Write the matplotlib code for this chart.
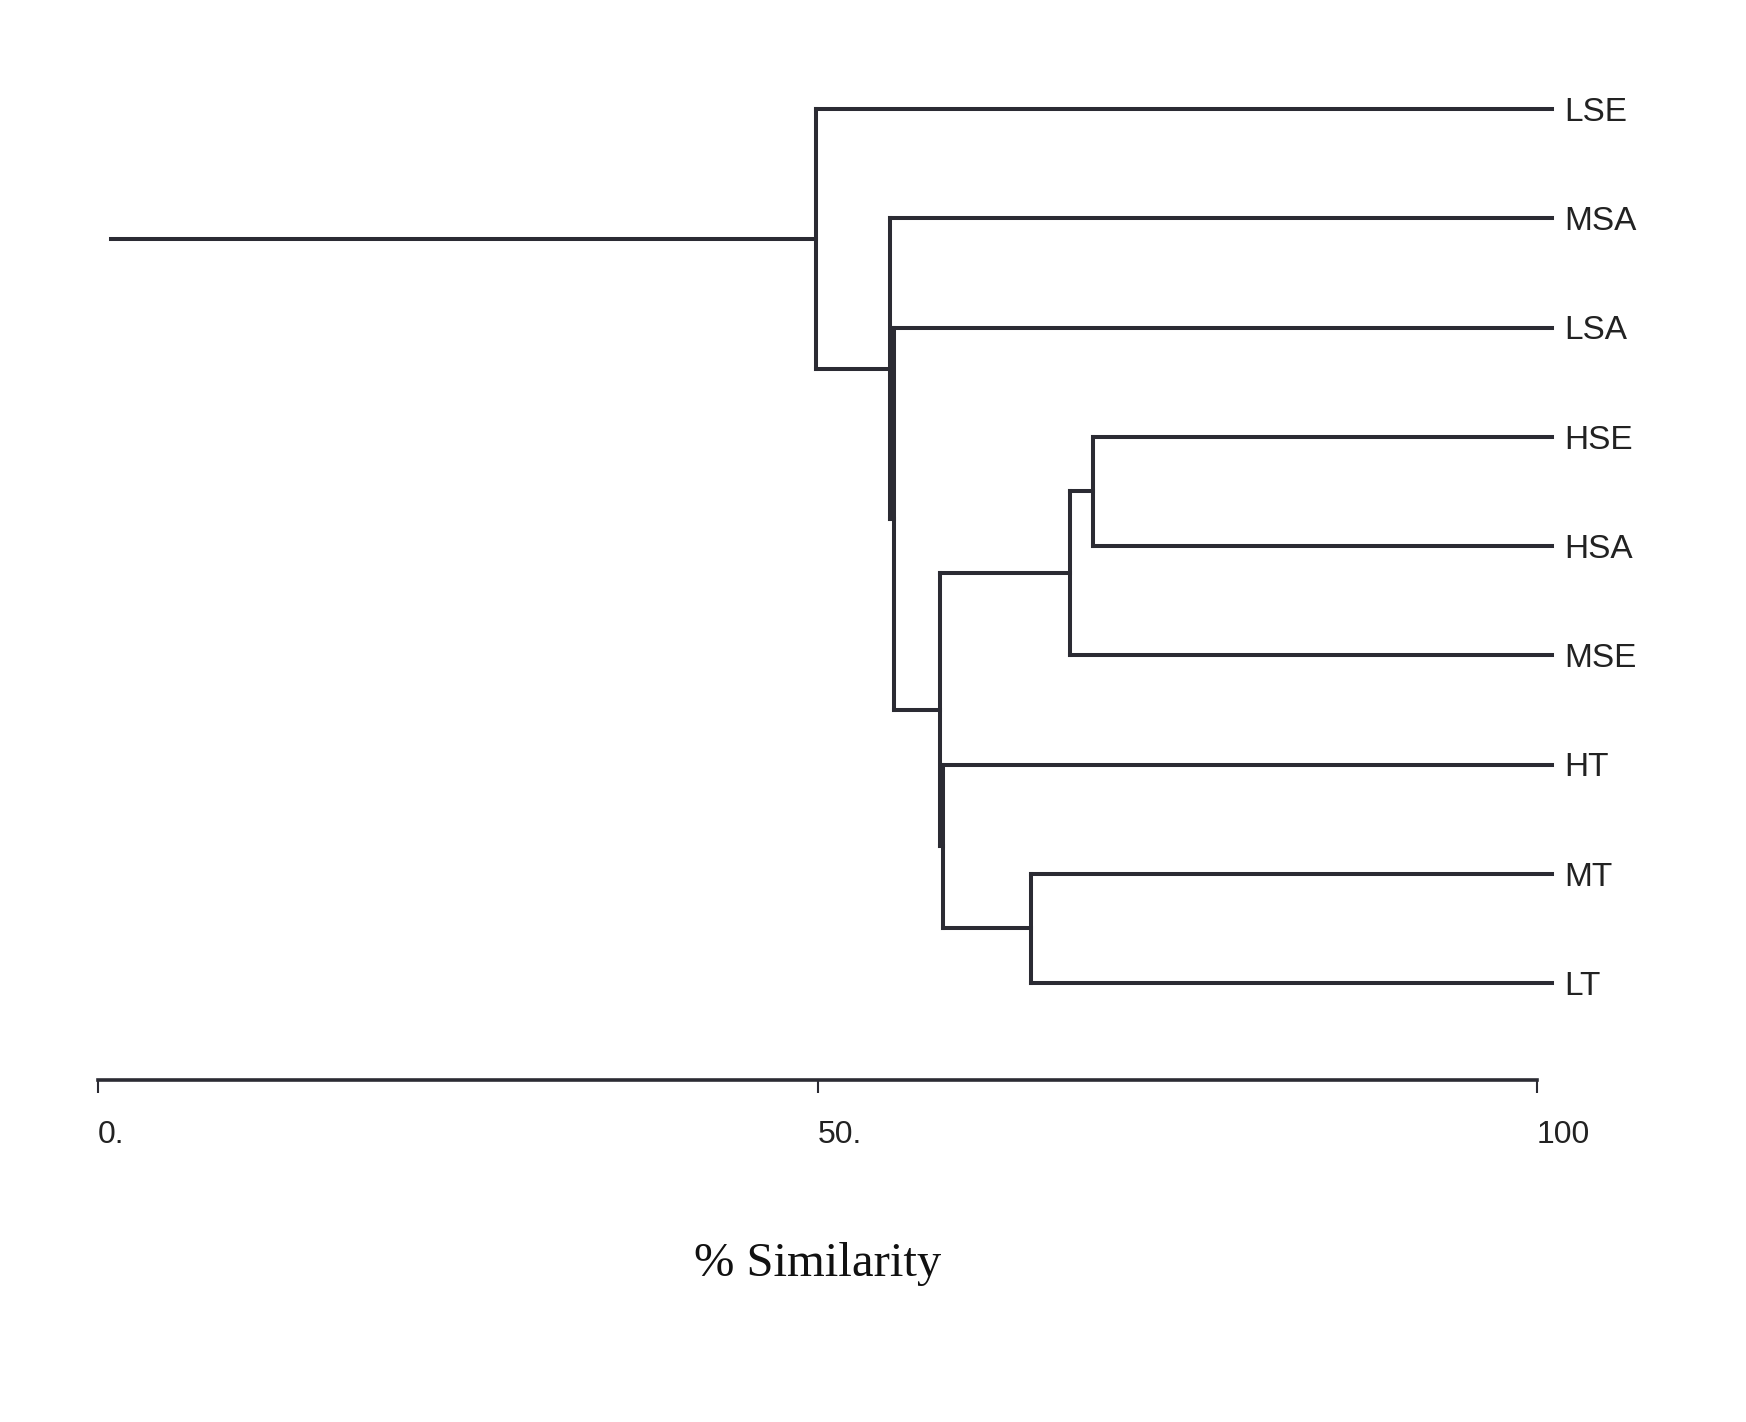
import matplotlib.pyplot as plt

# leaves, top to bottom
labels = ['LSE', 'MSA', 'LSA', 'HSE', 'HSA', 'MSE', 'HT', 'MT', 'LT']

# merges: node name, the two children, % similarity at which they join
nodes = ['E', 'D', 'C', 'B2', 'B', 'A2', 'A', 'root']
left = ['HSE', 'MT', 'E', 'HT', 'C', 'LSA', 'MSA', 'LSE']
right = ['HSA', 'LT', 'MSE', 'D', 'B2', 'B', 'A2', 'A']
similarity = [69.1, 64.8, 67.5, 58.7, 58.5, 55.3, 55.0, 49.9]

scale_ticks = [0, 50, 100]
scale_labels = ['0.', '50.', '100']

leaf_end = 101.0
root_start = 0.9
col = '#2b2b33'
lw = 2.9

fig = plt.figure(figsize=(17.46, 14.22), dpi=100)
ax = fig.add_axes([0, 0, 1, 1])
ax.set_xlim(-6.81, 114.5)
ax.set_ylim(12.02, -1.0)
ax.axis('off')

xpos = {}
ypos = {}
for i, name in enumerate(labels):
    xpos[name] = leaf_end
    ypos[name] = i
    ax.text(leaf_end + 0.9, i + 0.03, name, va='center', ha='left',
            fontsize=24, family='Liberation Sans', color='#222')

for name, a, b, s in zip(nodes, left, right, similarity):
    for c in (a, b):
        ax.plot([xpos[c], s], [ypos[c], ypos[c]], color=col, lw=lw,
                solid_capstyle='projecting')
    ax.plot([s, s], [ypos[a], ypos[b]], color=col, lw=lw,
            solid_capstyle='projecting')
    xpos[name] = s
    ypos[name] = (ypos[a] + ypos[b]) / 2

# tail of the root
ax.plot([root_start, xpos['root']], [ypos['root'], ypos['root']],
        color=col, lw=lw)

# similarity scale
ax2 = fig.add_axes([98 / 1746, 1 - 1080 / 1422, (1537 - 98) / 1746, 0.0001])
ax2.set_xlim(0, 100)
ax2.set_yticks([])
for sp in ['top', 'left', 'right']:
    ax2.spines[sp].set_visible(False)
ax2.spines['bottom'].set_linewidth(2.6)
ax2.spines['bottom'].set_color(col)
ax2.set_xticks(scale_ticks)
ax2.set_xticklabels(scale_labels, ha='left', fontsize=23,
                    family='Liberation Sans', color='#222')
ax2.tick_params(axis='x', direction='out', length=9, width=1.5,
                color=col, pad=20)
ax2.set_xlabel('% Similarity', fontsize=35, family='Liberation Serif',
               labelpad=66, color='#111')
ax2.patch.set_alpha(0)

fig.savefig('out.png', dpi=100, facecolor='white')
